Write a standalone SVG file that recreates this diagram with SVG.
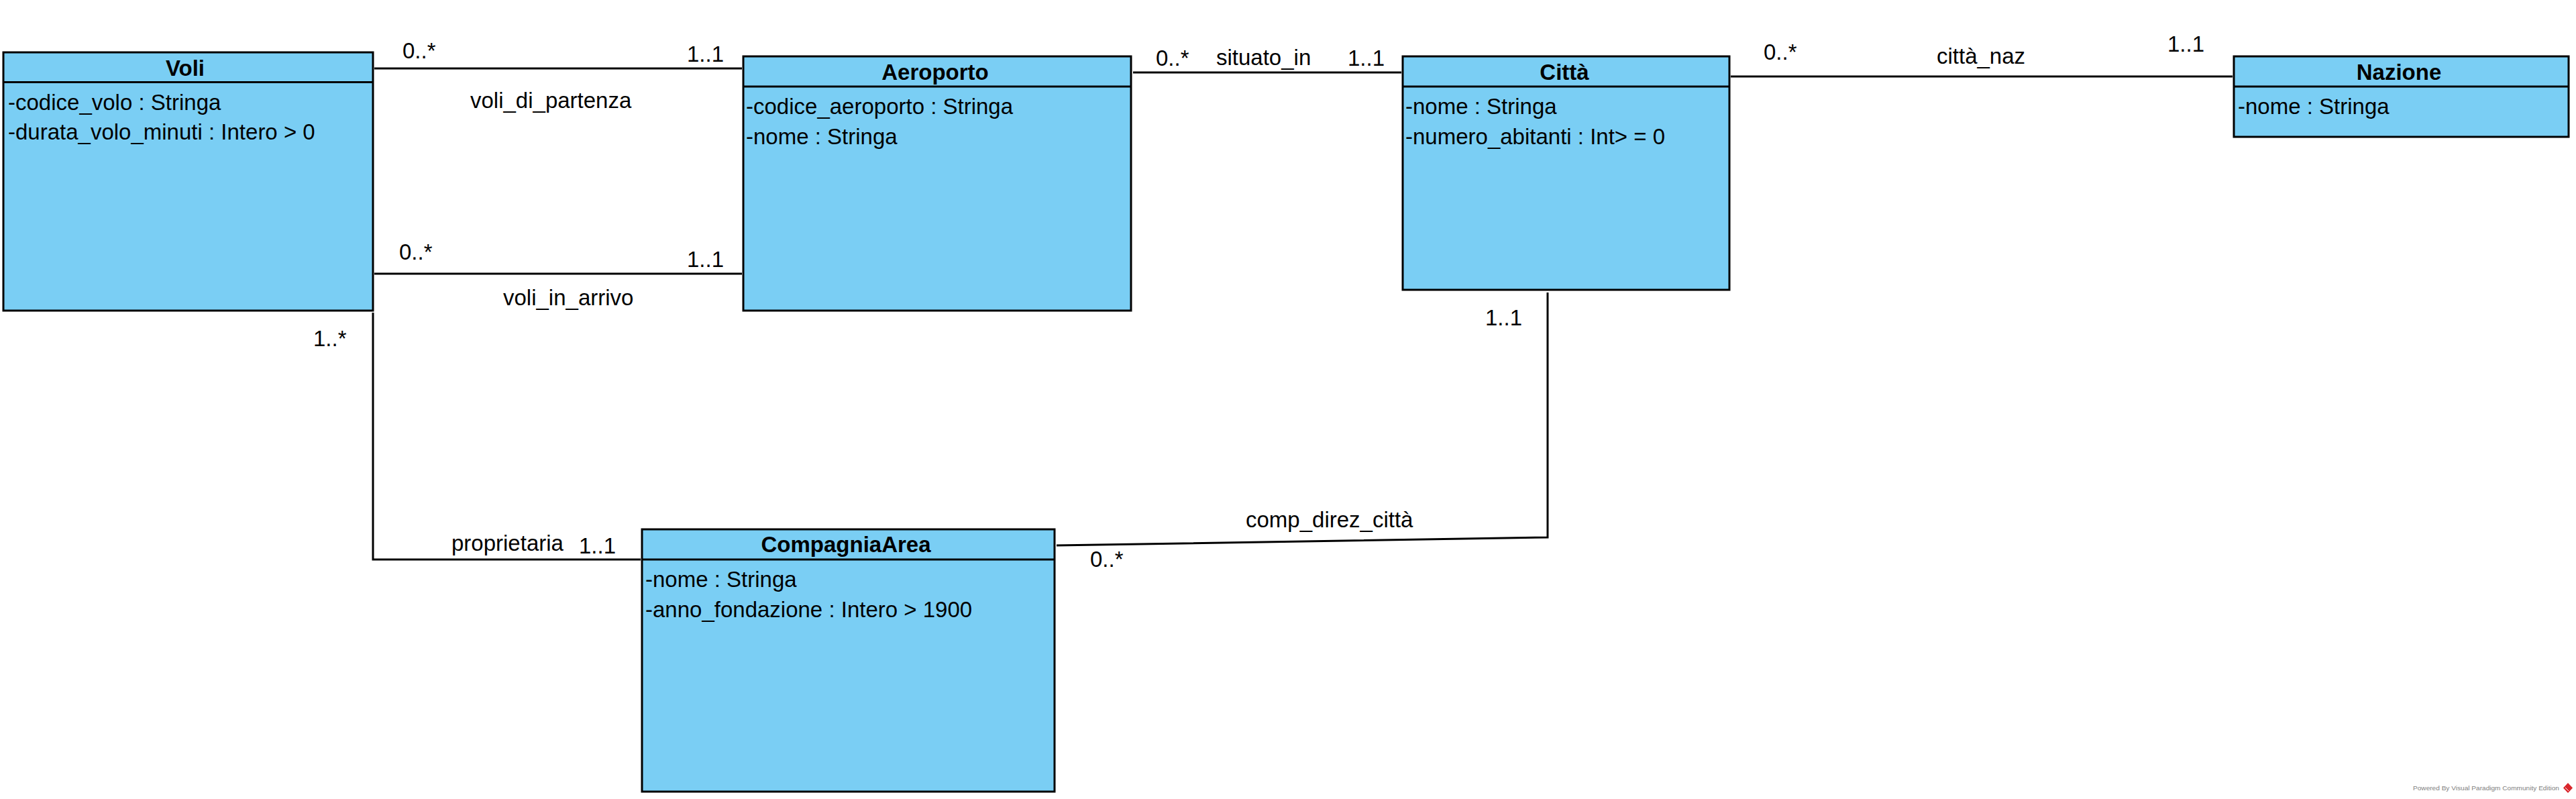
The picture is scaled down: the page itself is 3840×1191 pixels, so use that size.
<svg xmlns="http://www.w3.org/2000/svg" width="3840" height="1191" viewBox="0 0 3840 1191">
<style>
.box{fill:#7ACEF4;stroke:#000;stroke-width:3}
.sep{stroke:#000;stroke-width:3}
.title{font-family:"Liberation Sans",Arial,sans-serif;font-size:33px;font-weight:bold;fill:#000;text-anchor:middle}
.attr{font-family:"Liberation Sans",Arial,sans-serif;font-size:33px;fill:#000}
.lbl{font-family:"Liberation Sans",Arial,sans-serif;font-size:33px;fill:#000}
.conn{fill:none;stroke:#000;stroke-width:3}
.wm{font-family:"Liberation Sans",Arial,sans-serif;font-size:9px;fill:#808080}
</style>
<rect width="3840" height="1191" fill="#fff"/>
<g id="connectors">
<line class="conn" x1="558" y1="102" x2="1106" y2="102"/>
<line class="conn" x1="558" y1="408" x2="1106" y2="408"/>
<line class="conn" x1="1689" y1="108" x2="2089" y2="108"/>
<line class="conn" x1="2580" y1="114" x2="3328" y2="114"/>
<polyline class="conn" points="556,466 556,834 955,834"/>
<polyline class="conn" points="1575,813 2307,801 2307,436"/>
<text class="lbl" x="600" y="87">0..*</text>
<text class="lbl" x="1024" y="92">1..1</text>
<text class="lbl" x="701" y="161">voli_di_partenza</text>
<text class="lbl" x="595" y="387">0..*</text>
<text class="lbl" x="1024" y="398">1..1</text>
<text class="lbl" x="750" y="455">voli_in_arrivo</text>
<text class="lbl" x="1723" y="98">0..*</text>
<text class="lbl" x="1813" y="97">situato_in</text>
<text class="lbl" x="2009" y="98">1..1</text>
<text class="lbl" x="2629" y="89">0..*</text>
<text class="lbl" x="2887" y="95">città_naz</text>
<text class="lbl" x="3231" y="77">1..1</text>
<text class="lbl" x="467" y="516">1..*</text>
<text class="lbl" x="673" y="821">proprietaria</text>
<text class="lbl" x="863" y="825">1..1</text>
<text class="lbl" x="1857" y="786">comp_direz_città</text>
<text class="lbl" x="1625" y="845">0..*</text>
<text class="lbl" x="2214" y="485">1..1</text>
</g>
<g id="voli">
<rect class="box" x="5" y="78" width="551" height="385"/>
<line class="sep" x1="5" y1="122.5" x2="556" y2="122.5"/>
<text class="title" x="276" y="113">Voli</text>
<text class="attr" x="12" y="164">-codice_volo : Stringa</text>
<text class="attr" x="12" y="208">-durata_volo_minuti : Intero &gt; 0</text>
</g>
<g id="aeroporto">
<rect class="box" x="1108" y="84" width="578" height="379"/>
<line class="sep" x1="1108" y1="129" x2="1686" y2="129"/>
<text class="title" x="1394" y="119">Aeroporto</text>
<text class="attr" x="1112" y="169.5">-codice_aeroporto : Stringa</text>
<text class="attr" x="1112" y="215">-nome : Stringa</text>
</g>
<g id="citta">
<rect class="box" x="2091" y="84" width="487" height="348"/>
<line class="sep" x1="2091" y1="129" x2="2578" y2="129"/>
<text class="title" x="2332" y="119">Città</text>
<text class="attr" x="2095" y="169.5">-nome : Stringa</text>
<text class="attr" x="2095" y="215">-numero_abitanti : Int&gt; = 0</text>
</g>
<g id="nazione">
<rect class="box" x="3330" y="84" width="499" height="120"/>
<line class="sep" x1="3330" y1="129" x2="3829" y2="129"/>
<text class="title" x="3576" y="119">Nazione</text>
<text class="attr" x="3336" y="169.5">-nome : Stringa</text>
</g>
<g id="compagniaarea">
<rect class="box" x="957" y="789" width="615" height="391"/>
<line class="sep" x1="957" y1="834" x2="1572" y2="834"/>
<text class="title" x="1261" y="823">CompagniaArea</text>
<text class="attr" x="962" y="875">-nome : Stringa</text>
<text class="attr" x="962" y="920">-anno_fondazione : Intero &gt; 1900</text>
</g>
<g id="watermark">
<text class="wm" x="3597" y="1178" textLength="218" lengthAdjust="spacingAndGlyphs">Powered By Visual Paradigm Community Edition</text>
<polygon points="3828,1167 3835,1174.5 3828,1182 3821,1174.5" fill="#d9262b"/>
<line x1="3824" y1="1174" x2="3829" y2="1179" stroke="#fff" stroke-width="1"/>
</g>
</svg>
